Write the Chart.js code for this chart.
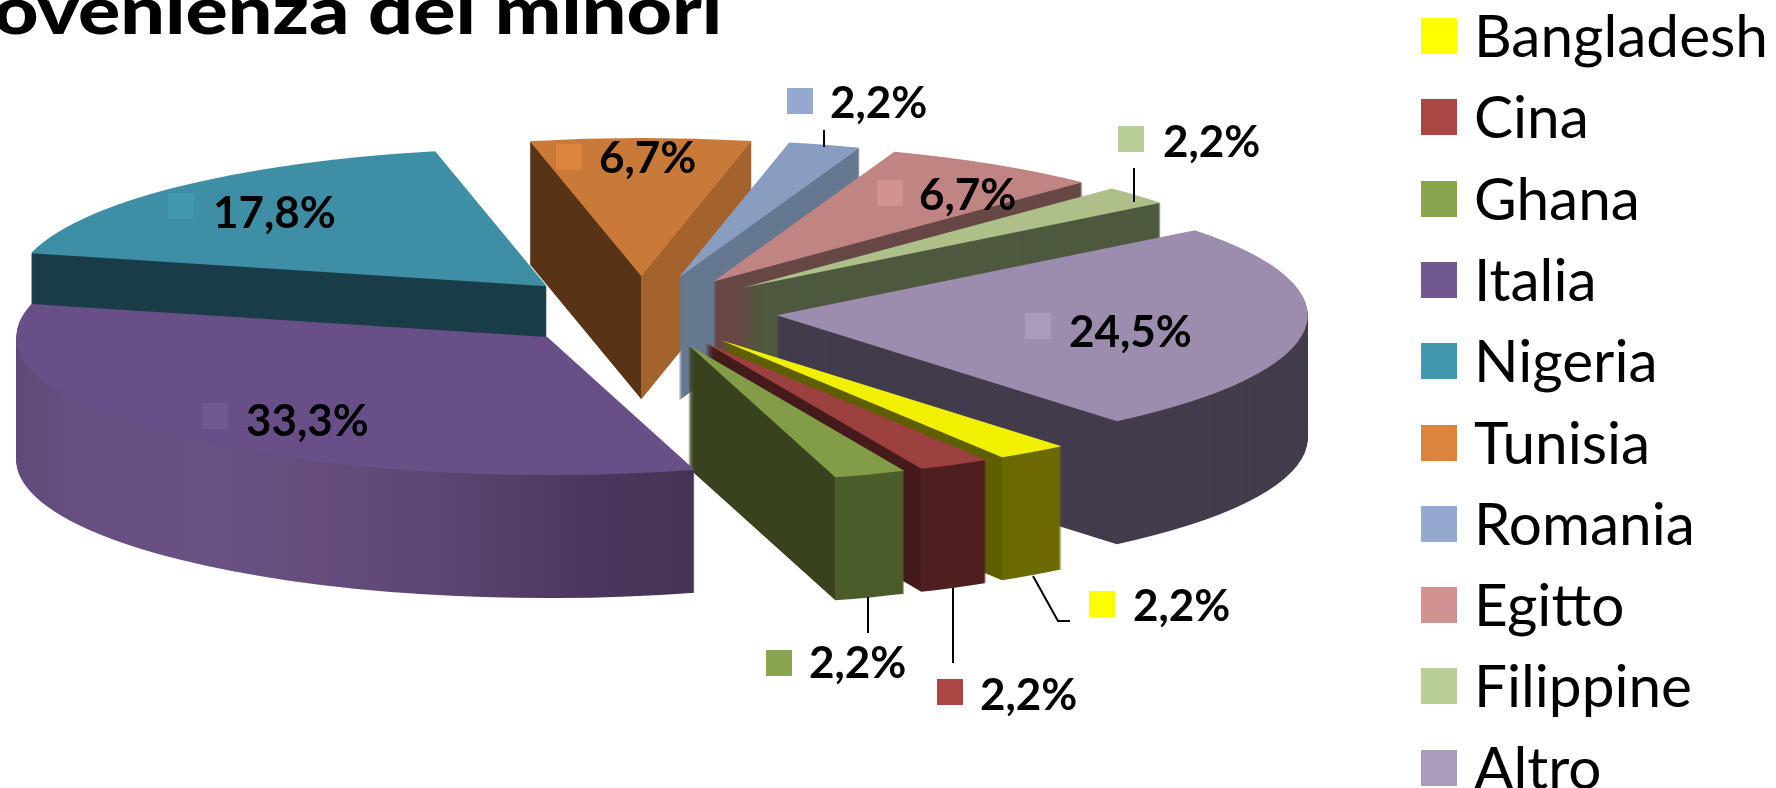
<!DOCTYPE html>
<html lang="it">
<head>
<meta charset="utf-8">
<title>Provenienza dei minori</title>
<script src="https://cdn.jsdelivr.net/npm/chart.js@4"></script>
<style>
    html, body { margin: 0; padding: 0; background: #fff; }
    body { position: relative; width: 1776px; height: 788px; overflow: hidden; }
    #pie { position: absolute; left: 0; top: 0; }
    #title {
        position: absolute; right: 1054px; top: -29px; white-space: nowrap;
        font: 900 66px/76px Lato, sans-serif; color: #000;
        transform: scaleX(1.195); transform-origin: right center;
    }
    #legend { position: absolute; left: 1421px; top: -4.6px; margin: 0; padding: 0; list-style: none; }
    #legend li { display: flex; align-items: center; height: 81.3px; font: 58.5px Lato, sans-serif; color: #000; }
    #legend i { display: block; width: 36px; height: 36px; margin-right: 17px; }
    #legend span { position: relative; top: -2px; }
</style>
</head>
<body>
<canvas id="pie" width="1776" height="788"></canvas>
<div id="title">Provenienza dei minori</div>
<ul id="legend"></ul>
<script>
const categories = ['Bangladesh', 'Cina', 'Ghana', 'Italia', 'Nigeria', 'Tunisia', 'Romania', 'Egitto', 'Filippine', 'Altro'];
const values = [2.2, 2.2, 2.2, 33.3, 17.8, 6.7, 2.2, 6.7, 2.2, 24.5];

// colori: legenda, faccia superiore, pareti (sinistra / destra)
const legendColors = ['#ffff00', '#aa4643', '#89a54e', '#71588f', '#4198af', '#db843d', '#93a9cf', '#d19392', '#b9cd96', '#a99bbd'];
const topColors = ['#f0f000', '#9c403f', '#829c48', '#694f87', '#3e8fa6', '#c97a38', '#889dc0', '#c08583', '#adc08a', '#9c8cae'];
const wallLeft = ['#5f5f00', '#451a1a', '#38421e', '#674e84', '#1a3d49', '#583316', '#667890', '#674846', '#4e5a3e', '#433c4c'];
const wallRight = ['#6b6900', '#4f1e1e', '#4b5b2a', '#453355', '#1a3d49', '#a4632c', '#667890', '#674846', '#4e5a3e', '#433c4c'];

// ordine di disegno, dal fondo verso il davanti
const drawOrder = [5, 6, 7, 8, 4, 9, 0, 1, 2, 3];

// etichette: quadratino [x, y], testo [x, baseline], linea guida
const labelBoxes = [[1089, 591], [937, 679], [766, 650], [202, 403], [168, 193], [556, 144], [787, 88], [877, 180], [1118, 126], [1025, 313]];
const labelTexts = [[1133, 621], [980, 710], [809, 678], [246, 436], [213, 228], [599, 173], [830, 118], [919, 210], [1163, 157], [1069, 347]];
const leaderLines = [
    [[1033, 576], [1058, 621], [1070, 621]],
    [[953, 588], [953, 663]],
    [[868, 597], [868, 633]],
    null, null, null,
    [[824, 130], [824, 147]],
    null,
    [[1134, 168], [1134, 202]],
    null
];

const pieCenter = [641.5, 311.5];
const pieRadius = 531;
const squash = 0.26;      // inclinazione della torta
const depth = 123;        // spessore in pixel
const explode = 136;      // distanza delle fette dal centro

// legenda html
const legendEl = document.getElementById('legend');
categories.forEach((name, i) => {
    const li = document.createElement('li');
    const box = document.createElement('i');
    const text = document.createElement('span');
    box.style.background = legendColors[i];
    text.textContent = name;
    li.appendChild(box);
    li.appendChild(text);
    legendEl.appendChild(li);
});

// colore delle pareti: stacco netto sull'apice o sullo spigolo esterno
function wallFill(ctx, arc, i, shiftX) {
    if (wallLeft[i] === wallRight[i]) return wallLeft[i];
    const mid = (arc.startAngle + arc.endAngle) / 2;
    const apexX = pieCenter[0] + Math.cos(mid) * explode;
    if (i === 3) {
        // Italia: sfumatura sulla parete esterna
        const g = ctx.createLinearGradient(14 - shiftX, 0, 694 - shiftX, 0);
        g.addColorStop(0, '#5f4a79');
        g.addColorStop(0.1, '#674f82');
        g.addColorStop(0.3, '#6a5185');
        g.addColorStop(0.6, '#5f4774');
        g.addColorStop(0.85, '#4b375d');
        g.addColorStop(1, wallRight[i]);
        return g;
    }
    const splitX = i === 5 ? apexX : apexX + Math.cos(arc.endAngle) * pieRadius;
    const g = ctx.createLinearGradient(0 - shiftX, 0, 1776 - shiftX, 0);
    const stop = splitX / 1776;
    g.addColorStop(0, wallLeft[i]);
    g.addColorStop(stop, wallLeft[i]);
    g.addColorStop(stop, wallRight[i]);
    g.addColorStop(1, wallRight[i]);
    return g;
}

function drawArc(ctx, arc, fill, y) {
    const mid = (arc.startAngle + arc.endAngle) / 2;
    const opts = arc.options;
    const o = Object.create(opts);
    o.backgroundColor = fill;
    arc.options = o;
    ctx.save();
    ctx.translate(pieCenter[0], pieCenter[1] + y);
    ctx.scale(1, squash);
    ctx.translate(Math.cos(mid) * explode - arc.x, Math.sin(mid) * explode - arc.y);
    arc.draw(ctx);
    ctx.restore();
    arc.options = opts;
}

// la torta 3D: ogni fetta viene ridisegnata a strati, poi la faccia superiore
const pie3d = {
    id: 'pie3d',
    beforeDatasetsDraw(chart) {
        const ctx = chart.ctx;
        const arcs = chart.getDatasetMeta(0).data;
        drawOrder.forEach(i => {
            const arc = arcs[i];
            const mid = (arc.startAngle + arc.endAngle) / 2;
            const shiftX = pieCenter[0] + Math.cos(mid) * explode - arc.x;
            const fill = wallFill(ctx, arc, i, shiftX);
            for (let y = depth; y > 0; y--) {
                drawArc(ctx, arc, fill, y);
            }
            drawArc(ctx, arc, topColors[i], 0);
        });
        return false;
    },
    afterDraw(chart) {
        const ctx = chart.ctx;
        ctx.save();
        ctx.strokeStyle = '#000';
        ctx.lineWidth = 2;
        leaderLines.forEach(line => {
            if (!line) return;
            ctx.beginPath();
            line.forEach((p, n) => n ? ctx.lineTo(p[0], p[1]) : ctx.moveTo(p[0], p[1]));
            ctx.stroke();
        });
        ctx.font = 'bold 44px Lato, sans-serif';
        ctx.fillStyle = '#000';
        values.forEach((v, i) => {
            ctx.fillStyle = legendColors[i];
            ctx.fillRect(labelBoxes[i][0], labelBoxes[i][1], 26, 26);
            ctx.fillStyle = '#000';
            ctx.fillText(v.toFixed(1).replace('.', ',') + '%', labelTexts[i][0], labelTexts[i][1]);
        });
        ctx.restore();
    }
};

new Chart(document.getElementById('pie'), {
    type: 'pie',
    data: {
        labels: categories,
        datasets: [{
            data: values,
            backgroundColor: legendColors,
            borderWidth: 0
        }]
    },
    options: {
        responsive: false,
        animation: false,
        rotation: 140.15,
        radius: pieRadius,
        plugins: {
            legend: { display: false },
            tooltip: { enabled: false }
        }
    },
    plugins: [pie3d]
});
</script>
</body>
</html>
